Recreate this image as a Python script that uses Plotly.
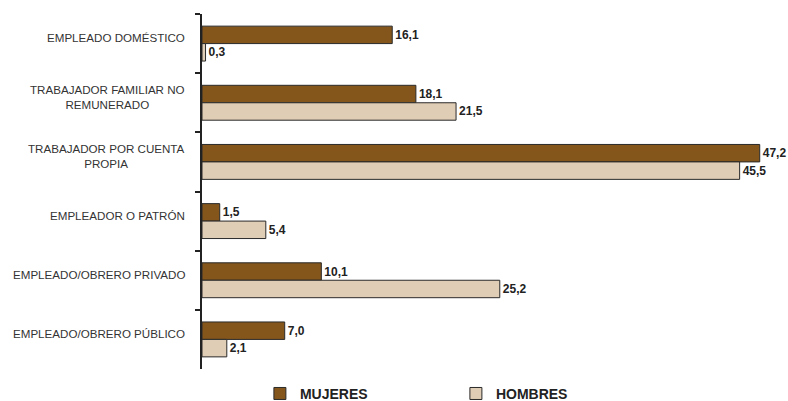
import plotly.graph_objects as go

categories = [
    "EMPLEADO DOMÉSTICO",
    "TRABAJADOR FAMILIAR NO<br>REMUNERADO",
    "TRABAJADOR POR CUENTA<br>PROPIA",
    "EMPLEADOR O PATRÓN",
    "EMPLEADO/OBRERO PRIVADO",
    "EMPLEADO/OBRERO PÚBLICO",
]
mujeres = [16.1, 18.1, 47.2, 1.5, 10.1, 7.0]
hombres = [0.3, 21.5, 45.5, 5.4, 25.2, 2.1]

FONT = "Liberation Sans, Arial, sans-serif"

fig = go.Figure()
fig.add_trace(go.Bar(
    y=categories, x=mujeres, orientation="h", name="MUJERES",
    marker=dict(color="#84561C", line=dict(color="#2a2a2a", width=1)),
    texttemplate="<b>%{x:.1f}</b>", textposition="outside",
    textfont=dict(family=FONT, size=12, color="#222222"), cliponaxis=False,
))
fig.add_trace(go.Bar(
    y=categories, x=hombres, orientation="h", name="HOMBRES",
    marker=dict(color="#E0CDB5", line=dict(color="#2a2a2a", width=1)),
    texttemplate="<b>%{x:.1f}</b>", textposition="outside",
    textfont=dict(family=FONT, size=12, color="#222222"), cliponaxis=False,
))

for c in categories:
    fig.add_annotation(
        x=0, xref="paper", xanchor="right", xshift=-15,
        y=c, yref="y", yanchor="middle", yshift=6,
        text=c, showarrow=False, align="center",
        font=dict(family=FONT, size=11.6, color="#333333"),
    )

fig.update_layout(
    width=788, height=401,
    margin=dict(l=202, r=7, t=14, b=32, autoexpand=False),
    paper_bgcolor="white", plot_bgcolor="white",
    separators=",.",
    barmode="group", bargap=0.41, bargroupgap=0,
    showlegend=True,
    legend=dict(
        orientation="h", x=0.1, xanchor="left", y=-0.025, yanchor="top",
        font=dict(family=FONT, size=14, color="#222222", weight="bold"),
        entrywidth=151, entrywidthmode="pixels",
    ),
    xaxis=dict(range=[0, 49], showgrid=False, zeroline=False, showline=False,
               showticklabels=False, ticks="", automargin=False),
    yaxis=dict(autorange="reversed", showgrid=False, showline=True,
               linecolor="#222222", linewidth=2, ticks="outside", ticklen=5,
               tickwidth=2, tickcolor="#222222", tickson="boundaries",
               showticklabels=False, automargin=False),
    font=dict(family=FONT),
)

fig.write_html(
    "out.html",
    config={"displayModeBar": False},
    post_script="document.body.style.margin='0';document.body.style.padding='0';",
)
